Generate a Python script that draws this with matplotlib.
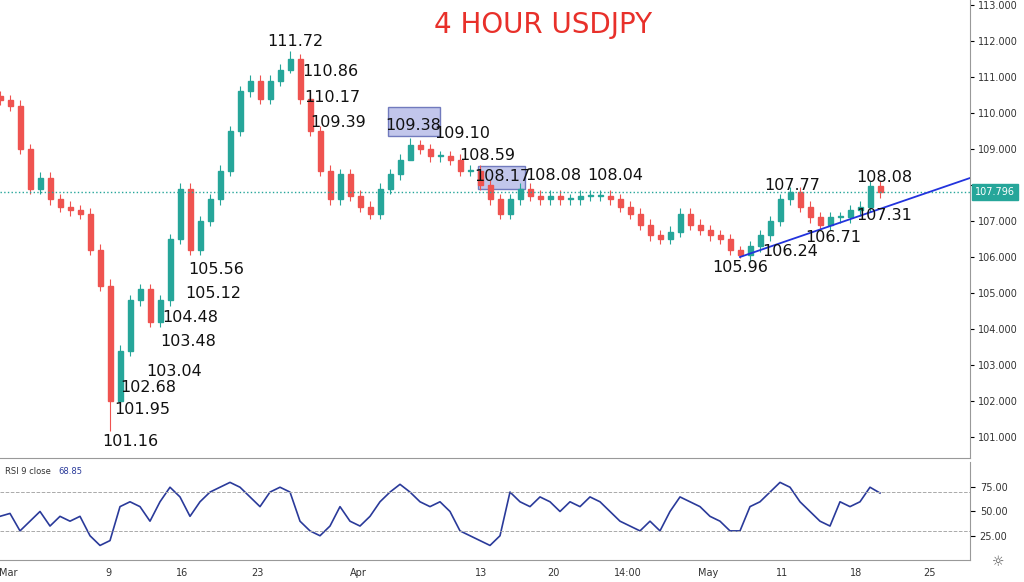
import matplotlib
matplotlib.use("Agg")
import matplotlib.pyplot as plt
from matplotlib.patches import Rectangle

# closes sampled every ~10px of the original chart
closes = [110.36,110.2,109.0,107.9,108.2,107.6,107.4,107.3,107.2,106.2,105.2,102.0,103.4,104.8,105.1,104.2,
          104.8,106.5,107.9,106.2,107.0,107.6,108.4,109.5,110.6,110.9,110.4,110.9,111.2,111.5,110.4,109.5,
          108.4,107.6,108.3,107.7,107.4,107.2,107.9,108.3,108.7,109.1,109.0,108.8,108.8,108.7,108.4,108.4,
          108.0,107.6,107.2,107.6,107.9,107.7,107.6,107.7,107.6,107.6,107.7,107.7,107.7,107.6,107.4,107.2,
          106.9,106.6,106.5,106.7,107.2,106.9,106.75,106.6,106.5,106.2,106.05,106.3,106.6,107.0,107.6,107.8,
          107.4,107.1,106.9,107.1,107.1,107.3,107.4,107.96,107.8]
# notable wick extremes: index -> (low, high)
extremes = {11: (101.16, 105.4), 29: (111.1, 111.72), 74: (105.96, 106.3), 41: (108.9, 109.3)}
rsi = [45,48,30,40,50,35,45,40,45,25,15,20,55,60,55,40,60,75,65,45,60,70,75,80,75,65,55,70,75,70,40,30,
       25,35,55,40,35,45,60,70,78,70,60,55,60,50,30,25,20,15,25,70,60,55,65,60,50,60,55,65,60,50,40,35,
       30,40,30,50,65,60,55,45,40,30,30,55,60,70,80,75,60,50,40,35,60,55,60,75,69]
price_ticks = list(range(101, 114))
rsi_ticks = [25, 50, 75]
date_labels = ["Mar", "9", "16", "23", "Apr", "13", "20", "14:00", "May", "11", "18", "25"]
date_px = [8, 108, 182, 257, 358, 481, 553, 628, 708, 782, 856, 929]
annotations = [("111.72",295,42),("110.86",330,72),("110.17",332,97),("109.39",338,123),("109.38",413,126),
               ("109.10",462,134),("108.59",487,155),("108.17",502,177),("108.08",553,176),("108.04",615,176),
               ("107.77",792,185),("108.08",884,178),("107.31",884,216),("106.71",833,237),("106.24",790,251),
               ("105.96",740,268),("105.56",216,270),("105.12",213,294),("104.48",190,318),("103.48",188,341),
               ("103.04",174,371),("102.68",148,387),("101.95",142,409),("101.16",130,441)]
last_price = 107.796

UP, DN = "#26a69a", "#ef5350"
fig = plt.figure(figsize=(10.24, 5.82), dpi=100)
ax = fig.add_axes([0, 1-458/582, 970/1024, 458/582])
ar = fig.add_axes([0, 1-560/582, 970/1024, 98/582])

def py(y):  # pixel y -> price
    return 113 - (y-5)/36
def px(x):  # pixel x -> index
    return x/10

opens = [closes[0]+0.1] + closes[:-1]
for i, (o, c) in enumerate(zip(opens, closes)):
    col = UP if c >= o else DN
    lo, hi = extremes.get(i, (min(o, c)-0.15, max(o, c)+0.15))
    ax.vlines(i, lo, hi, color=col, lw=0.8)
    ax.add_patch(Rectangle((i-0.25, min(o, c)), 0.5, max(abs(c-o), 0.03), color=col))

ax.set_xlim(0, 97)
ax.set_ylim(py(458), py(0))
ax.axhline(last_price, color=UP, ls=":", lw=1)
ax.plot([px(740), px(970)], [py(257), py(178)], color="#2233dd", lw=1.3)
for lab, x, y in annotations:
    ax.text(px(x), py(y), lab, ha="center", va="center", fontsize=11.5, color="#111")
for (x0, y0, x1, y1) in [(388,107,440,136),(478,166,525,189)]:
    ax.add_patch(Rectangle((px(x0), py(y1)), px(x1)-px(x0), py(y0)-py(y1),
                           facecolor="#b3b8e6", edgecolor="#5560b0", lw=1, alpha=0.8, zorder=0))
ax.text(px(543), py(25), "4 HOUR USDJPY", ha="center", va="center", fontsize=20, color="#e8302a")
ax.yaxis.tick_right()
ax.set_yticks(price_ticks)
# the 108.000 label is hidden behind the last-price tag in the reference
ax.set_yticklabels(["" if t == 108 else f"{t:.3f}" for t in price_ticks], fontsize=7, color="#333")
ax.tick_params(axis="y", length=3, pad=3)
ax.set_xticks([])
ax.text(1.005, (last_price-py(458))/(py(0)-py(458)), f"{last_price:.3f}", transform=ax.transAxes,
        fontsize=7, color="white", va="center", ha="left",
        bbox=dict(boxstyle="square,pad=0.3", fc=UP, ec=UP))
for s in ["top", "left"]:
    ax.spines[s].set_visible(False)
ax.spines["right"].set_color("#999")
ax.spines["bottom"].set_color("#999")

ar.plot(range(len(rsi)), rsi, color="#2a3a9a", lw=1.2)
ar.axhline(70, color="#aaa", ls="--", lw=0.7)
ar.axhline(30, color="#aaa", ls="--", lw=0.7)
ar.set_xlim(0, 97)
ar.set_ylim(0, 101)
ar.yaxis.tick_right()
ar.set_yticks(rsi_ticks)
ar.set_yticklabels([f"{t:.2f}" for t in rsi_ticks], fontsize=7, color="#333")
ar.set_xticks([px(x) for x in date_px])
ar.set_xticklabels(date_labels, fontsize=7, color="#333")
ar.tick_params(axis="x", length=0, pad=6)
ar.text(0.005, 0.9, "RSI 9 close", transform=ar.transAxes, fontsize=6, color="#333", va="center")
ar.text(0.06, 0.9, "68.85", transform=ar.transAxes, fontsize=6, color="#2a3a9a", va="center")
for s in ["top", "left"]:
    ar.spines[s].set_visible(False)
ar.spines["right"].set_color("#999")
ar.spines["bottom"].set_color("#999")
fig.text(0.975, 0.028, "☼", fontsize=10, color="#555", ha="center")
fig.savefig("out.png", dpi=100)
